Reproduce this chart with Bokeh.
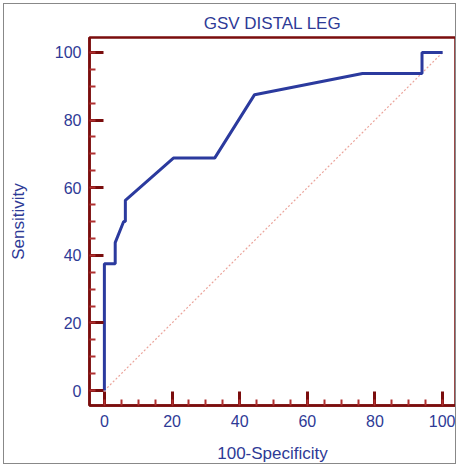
from bokeh.plotting import figure
from bokeh.embed import file_html
from bokeh.resources import INLINE
from bokeh.models import SingleIntervalTicker, Range1d

# ROC curve (100-Specificity, Sensitivity)
fpr = [0, 0, 3.2, 3.2, 5.7, 6.2, 6.2, 20.4, 32.6, 44.4, 76.3, 93.9, 93.9, 100]
tpr = [0, 37.5, 37.5, 43.75, 50, 50, 56.25, 68.75, 68.75, 87.5, 93.75, 93.75, 100, 100]
diag_x = [0, 100]
diag_y = [0, 100]

title = "GSV DISTAL LEG"
x_label = "100-Specificity"
y_label = "Sensitivity"

BLUE = "#2e3a96"
RED = "#7a0d0d"
FONT = "Liberation Sans"

p = figure(width=453, height=461, output_backend="svg", toolbar_location=None,
           x_range=Range1d(-4.4, 103.8), y_range=Range1d(-4.4, 104.4),
           title=title, min_border_left=85, min_border_right=2,
           min_border_top=33, min_border_bottom=58)

p.title.align = "center"
p.title.text_font = FONT
p.title.text_font_size = "17px"
p.title.text_font_style = "normal"
p.title.text_color = BLUE

p.grid.visible = False
p.outline_line_color = RED
p.outline_line_width = 2.5
p.outline_line_alpha = 1

for ax in (p.xaxis[0], p.yaxis[0]):
    ax.ticker = SingleIntervalTicker(interval=20, num_minor_ticks=4)
    ax.axis_line_color = RED
    ax.axis_line_width = 2.5
    ax.major_tick_line_color = RED
    ax.major_tick_line_width = 3
    ax.major_tick_in = 14
    ax.major_tick_out = 0
    ax.minor_tick_line_color = "#b03030"
    ax.minor_tick_line_width = 2
    ax.minor_tick_in = 6
    ax.minor_tick_out = 0
    ax.major_label_text_font = FONT
    ax.major_label_text_font_size = "16px"
    ax.major_label_text_color = BLUE
    ax.axis_label_text_font = FONT
    ax.axis_label_text_font_size = "17px"
    ax.axis_label_text_font_style = "normal"
    ax.axis_label_text_color = BLUE

p.xaxis.axis_label = x_label
p.yaxis.axis_label = y_label
p.xaxis.major_label_standoff = 9
p.yaxis.major_label_standoff = 8
p.xaxis.axis_label_standoff = 14
p.yaxis.axis_label_standoff = 24

p.line(diag_x, diag_y, line_color="#eba59c", line_width=1.2, line_dash="2 2")
p.line(fpr, tpr, line_color="#2b3a9e", line_width=3)

p.styles = {"border": "1px solid #888888", "box-sizing": "border-box",
            "margin": "3px 0 0 3px"}

open("out.html", "w").write(file_html(p, INLINE))
